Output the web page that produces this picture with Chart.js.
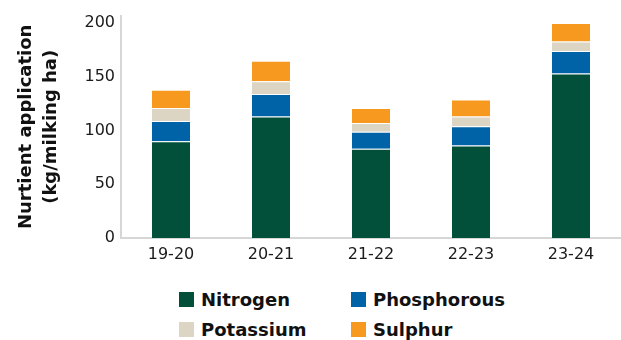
<!DOCTYPE html>
<html>
<head>
<meta charset="utf-8">
<script src="https://cdn.jsdelivr.net/npm/chart.js@4.4.1/dist/chart.umd.min.js"></script>
<style>
  html, body { margin:0; padding:0; background:#fff; }
  #wrap { position:relative; width:621px; height:340px; }
  #chart { position:absolute; left:0; top:0; }
  #legend {
    position:absolute; left:179px; top:290px;
    display:grid; grid-template-columns:172px auto; grid-auto-rows:30px;
    font-family:"DejaVu Sans", sans-serif; font-weight:bold; font-size:18px; color:#111;
  }
  #legend .item { display:flex; align-items:center; height:19px; }
  #legend .box { width:15px; height:15px; margin-right:7px; flex:none; }
</style>
</head>
<body>
<div id="wrap">
  <canvas id="chart" width="621" height="270"></canvas>
  <div id="legend"></div>
</div>
<script>
// seasons and nutrient amounts (kg per milking ha)
const seasons = ['19-20', '20-21', '21-22', '22-23', '23-24'];
const nitrogen = [90, 113, 83, 86, 153];
const phosphorous = [19, 21, 16, 18, 21];
const potassium = [12, 12, 8, 9, 9];
const sulphur = [17, 19, 14, 16, 17];
const yTicks = [0, 50, 100, 150, 200];

const FONT = '"DejaVu Sans", sans-serif';
const axisGrey = '#d6d6d6';

function ds(label, data, color){
  return {
    label, data,
    backgroundColor: color,
    borderColor: 'rgba(255,255,255,0.18)',
    borderWidth: 1,
    barPercentage: 0.4,
    categoryPercentage: 1
  };
}

// builds the 2x2 legend underneath the canvas
const htmlLegend = {
  id: 'htmlLegend',
  afterUpdate(chart){
    const el = document.getElementById('legend');
    el.innerHTML = '';
    const items = chart.options.plugins.legend.labels.generateLabels(chart);
    items.forEach(it=>{
      const div = document.createElement('div');
      div.className = 'item';
      const box = document.createElement('span');
      box.className = 'box';
      box.style.background = it.fillStyle;
      const txt = document.createElement('span');
      txt.textContent = it.text;
      div.appendChild(box); div.appendChild(txt);
      el.appendChild(div);
    });
  }
};

new Chart(document.getElementById('chart'), {
  type: 'bar',
  data: {
    labels: seasons,
    datasets: [
      ds('Nitrogen', nitrogen, '#03503a'),
      ds('Phosphorous', phosphorous, '#0062a7'),
      ds('Potassium', potassium, '#ddd5c3'),
      ds('Sulphur', sulphur, '#f7981f')
    ]
  },
  options: {
    responsive: false,
    animation: false,
    layout: { padding: { top: 15, right: 0, left: 0, bottom: 0 } },
    plugins: {
      legend: { display: false },
      tooltip: { enabled: false }
    },
    scales: {
      x: {
        stacked: true,
        grid: { display: false, drawTicks: false },
        border: { display: true, color: axisGrey, width: 2 },
        ticks: { color: '#1a1a1a', padding: 7, font: { family: FONT, size: 16 } },
        afterFit: s => { s.height = 32; }
      },
      y: {
        stacked: true,
        min: 0, max: 207,
        grid: { display: false, drawTicks: false },
        border: { display: true, color: axisGrey, width: 2 },
        afterBuildTicks: s => { s.ticks = yTicks.map(v => ({ value: v })); },
        ticks: { color: '#1a1a1a', padding: 6, font: { family: FONT, size: 16 } },
        title: {
          display: true,
          text: ['Nurtient application', '(kg/milking ha)'],
          color: '#111',
          padding: { top: 14, bottom: 0 },
          font: { family: FONT, size: 18, weight: 'bold', lineHeight: 1.4 }
        },
        afterFit: s => { s.width = 121; }
      }
    }
  },
  plugins: [htmlLegend]
});
</script>
</body>
</html>
